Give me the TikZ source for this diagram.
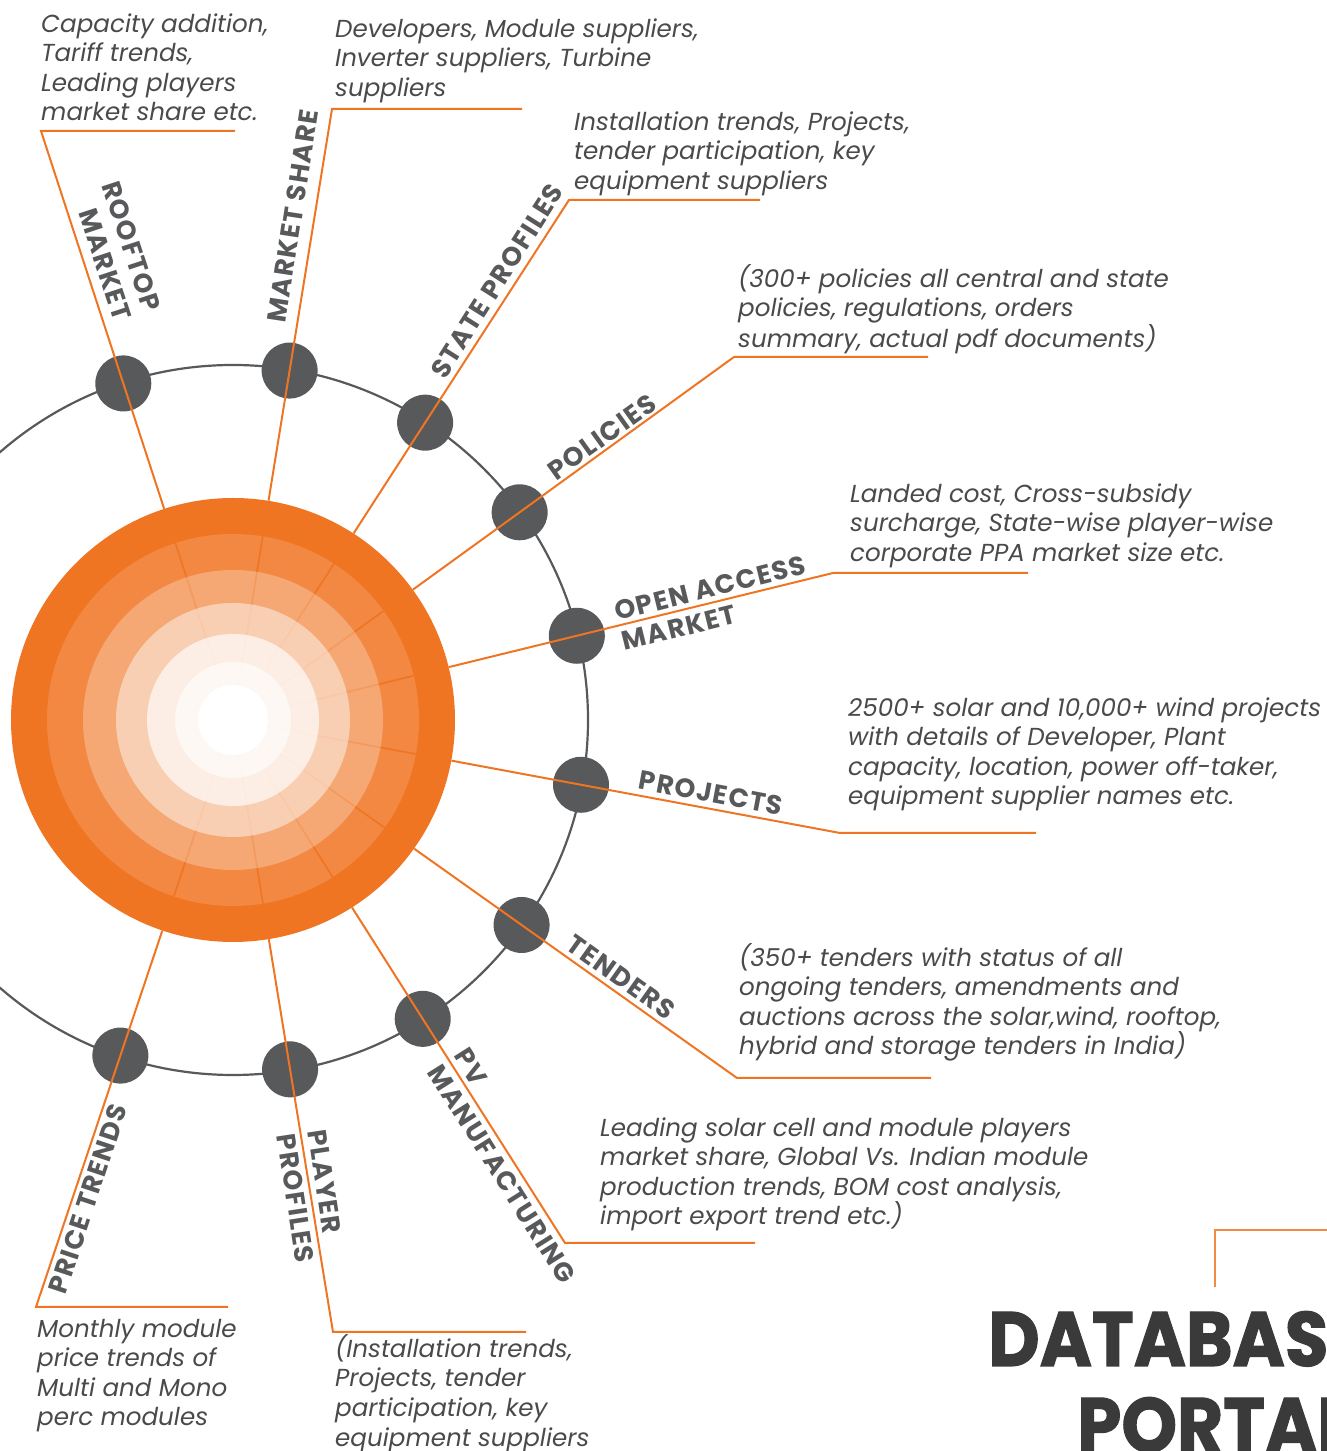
\documentclass[tikz,border=0pt]{standalone}
\usepackage{fontspec}
\usepackage{graphicx}
\setmainfont{Poppins}
\newfontfamily\labfont{Poppins}[LetterSpace=5]
\newfontfamily\titlefont{Poppins}[BoldFeatures={FakeBold=1.5}]
\usetikzlibrary{calc}
\definecolor{orng}{HTML}{F07522}
\definecolor{dotgray}{HTML}{58595B}
\definecolor{txtgray}{HTML}{4A4A4C}
\definecolor{titlegray}{HTML}{3A3A3A}
\tikzset{
  dotnode/.style={circle, fill=dotgray, minimum size=56pt, inner sep=0pt},
  lead/.style={draw=orng, line width=2pt, line join=miter},
  lab/.style={font=\fontsize{26.5}{31}\selectfont\labfont\bfseries, text=dotgray, inner sep=0pt},
  desc/.style={font=\fontsize{24.6}{29.6}\selectfont\itshape, text=txtgray, align=left, inner sep=0pt, anchor=north west},
  title/.style={font=\fontsize{77}{80}\selectfont\titlefont\bfseries, text=titlegray, inner sep=0pt, anchor=base west}
}
\newcommand{\fs}{\rule{0pt}{24pt}}
\begin{document}
\begin{tikzpicture}[x=1pt,y=1pt]
\useasboundingbox (0,0) rectangle (1327,1451);
\clip (0,0) rectangle (1327,1451);

% core
\node[circle, fill=orng, minimum size=444pt, inner sep=0pt] (core) at (233,731) {};

% corners and ends of the leaders
\coordinate (k1) at (41,1320);  \coordinate (e1) at (235,1320);
\coordinate (k2) at (332,1342); \coordinate (e2) at (522,1342);
\coordinate (k3) at (569,1251); \coordinate (e3) at (760,1251);
\coordinate (k4) at (734,1094); \coordinate (e4) at (928,1094);
\coordinate (k5) at (833,878);  \coordinate (e5) at (1028,878);
\coordinate (k6) at (840,618);  \coordinate (e6) at (1036,618);
\coordinate (k7) at (737,373);  \coordinate (e7) at (931,373);
\coordinate (k8) at (565,208);  \coordinate (e8) at (755,208);
\coordinate (k9) at (333,119);  \coordinate (e9) at (526,119);
\coordinate (k10) at (36,144);  \coordinate (e10) at (228,144);

% gray ring
\draw[dotgray, line width=2.2pt] (core.center) circle[radius=355pt];

% inner shading
\fill[white, opacity=0.14] (core.center) circle[radius=186pt];
\foreach \i in {1,...,10}
  \draw[orng, line width=1.6pt] (core.center) -- ($(core.center)!186pt!(k\i)$);
\fill[white, opacity=0.27] (core.center) circle[radius=150pt];
\fill[white, opacity=0.46] (core.center) circle[radius=117pt];
\fill[white, opacity=0.65] (core.center) circle[radius=86pt];
\fill[white, opacity=0.6] (core.center) circle[radius=58pt];
\fill[white] (core.center) circle[radius=35pt];

% dots
\foreach \i in {1,...,10}
  \node[dotnode] (d\i) at ($(core.center)!354pt!(k\i)$) {};

% leaders
\foreach \i in {1,...,10}
  \draw[lead] (core) -- (k\i) -- (e\i);

% labels
\node[lab, rotate=-71.8, align=right] (l1) at (117,1200) {ROOFTOP\\MARKET};
\node[lab, rotate=81.3] (l2) at (293,1235) {MARKET SHARE};
\node[lab, rotate=57.7] (l3) at (497,1170) {STATE PROFILES};
\node[lab, rotate=35.6] (l4) at (602,1014) {POLICIES};
\node[lab, rotate=13.9, align=left] (l5) at (714,848) {OPEN ACCESS\\MARKET};
\node[lab, rotate=-10.6] (l6) at (711,658) {PROJECTS};
\node[lab, rotate=-35.5] (l7) at (621,474) {TENDERS};
\node[lab, rotate=-57.8, align=left] (l8) at (515,285) {PV\\MANUFACTURING};
\node[lab, rotate=-81.3, align=left] (l9) at (311,255) {PLAYER\\PROFILES};
\node[lab, rotate=71.6] (l10) at (88,252) {PRICE TRENDS};

% descriptions
\node[desc] (t1) at (41,1443) {\fs Capacity addition,\\Tariff trends,\\Leading players\\market share etc.};
\node[desc] (t2) at (335,1438) {\fs Developers, Module suppliers,\\Inverter suppliers, Turbine\\suppliers};
\node[desc] (t3) at (574,1345) {\fs Installation trends, Projects,\\tender participation, key\\equipment suppliers};
\node[desc] (t4) at (738,1188) {\fs (300+ policies all central and state\\policies, regulations, orders\\summary, actual pdf documents)};
\node[desc] (t5) at (850,973) {\fs Landed cost, Cross-subsidy\\surcharge, State-wise player-wise\\corporate PPA market size etc.};
\node[desc] (t6) at (848,759) {\fs 2500+ solar and 10,000+ wind projects\\with details of Developer, Plant\\capacity, location, power off-taker,\\equipment supplier names etc.};
\node[desc] (t7) at (739,509) {\fs (350+ tenders with status of all\\ongoing tenders, amendments and\\auctions across the solar,wind, rooftop,\\hybrid and storage tenders in India)};
\node[desc] (t8) at (600,339) {\fs Leading solar cell and module players\\market share, Global Vs. Indian module\\production trends, BOM cost analysis,\\import export trend etc.)};
\node[desc] (t9) at (335,118) {\fs (Installation trends,\\Projects, tender\\participation, key\\equipment suppliers};
\node[desc] (t10) at (37,138) {\fs Monthly module\\price trends of\\Multi and Mono\\perc modules};

% title
\coordinate (b0) at (1215,164);
\coordinate (b1) at (1215,221);
\coordinate (b2) at (1335,221);
\draw[draw=orng!85, line width=2.6pt] (b0) -- (b1) -- (b2);
\node[title] (ttl1) at (988,85) {\scalebox{0.92}[1]{DATABASE}};
\node[title] (ttl2) at (1077,-1) {\scalebox{0.92}[1]{PORTAL}};
\end{tikzpicture}
\end{document}
